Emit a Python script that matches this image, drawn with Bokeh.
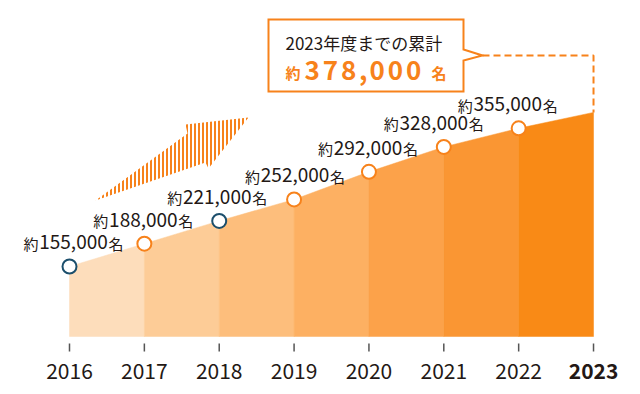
from bokeh.plotting import figure
from bokeh.models import Range1d, ColumnDataSource
from bokeh.core.properties import value
from bokeh.embed import file_html
from bokeh.resources import INLINE

# ---------------- data ----------------
years = [2016, 2017, 2018, 2019, 2020, 2021, 2022, 2023]
totals = [155000, 188000, 221000, 252000, 292000, 328000, 355000, 378000]
year_labels = ["2016", "2017", "2018", "2019", "2020", "2021", "2022", "2023"]
callout_title = "2023年度までの累計"
callout_total = 378000
label_prefix = "約"
label_suffix = "名"

# ---------------- styles ----------------
FONT = "Noto Sans CJK JP"
ORANGE = "#F7821B"
TEXT = "#231815"
seg_colors = ["#FDDDBB", "#FDCC97", "#FDBE7C", "#FDB062", "#FCA24A", "#FA9633", "#F98A16"]
marker_colors = ["#1C4F6C", ORANGE, "#1C4F6C", ORANGE, ORANGE, ORANGE, ORANGE]
year_styles = ["normal"] * 7 + ["bold"]
label_dx = [4, -1, -2, 1, -1, -10, -11]

W, H = 640, 394
X0_PX, STEP_PX = 69.0, 74.86      # px of first year, px per year
Y_ZERO, Y_SLOPE = 373.1, 0.691     # px of value 0, px per thousand


def X(px):
    return years[0] + (px - X0_PX) / STEP_PX


def Y(py):
    return (Y_ZERO - py) / Y_SLOPE * 1000.0


p = figure(width=W, height=H, output_backend="svg", toolbar_location=None,
           x_range=Range1d(X(0), X(W)), y_range=Range1d(Y(H), Y(0)),
           x_axis_location=None, y_axis_location=None,
           min_border_left=0, min_border_right=0, min_border_top=0, min_border_bottom=0)
p.outline_line_color = None
p.grid.visible = False
p.background_fill_color = "white"
p.border_fill_color = "white"

# ---------------- area segments ----------------
base = Y(336)
seg_xs, seg_ys = [], []
for i in range(len(years) - 1):
    seg_xs.append([years[i], years[i + 1], years[i + 1], years[i]])
    seg_ys.append([base, base, totals[i + 1], totals[i]])
p.patches(xs="xs", ys="ys", fill_color="c", line_color="c", line_width=0.5,
          source=ColumnDataSource(dict(xs=seg_xs, ys=seg_ys, c=seg_colors)))

# ---------------- year ticks and labels ----------------
p.segment(x0=years, y0=[Y(343)] * len(years), x1=years, y1=[Y(351)] * len(years),
          line_color="#555555", line_width=1.5)
p.text(x="x", y="y", text="t", text_font_style="s",
       source=ColumnDataSource(dict(x=years, y=[Y(370)] * len(years), t=year_labels, s=year_styles)),
       text_font=value(FONT), text_font_size="21px", text_color=TEXT,
       text_align="center", text_baseline="middle")

# ---------------- dashed connector + callout ----------------
p.line([X(482), years[-1], years[-1]], [Y(55), Y(55), totals[-1]],
       line_color=ORANGE, line_width=2, line_dash="7 4")
p.patch([X(268), X(463), X(463), X(482), X(463), X(463), X(268)],
        [Y(19), Y(19), Y(49), Y(55), Y(60), Y(91), Y(91)],
        fill_color="white", line_color=ORANGE, line_width=2, line_join="miter")
p.text(x=[X(285)], y=[Y(42)], text=[callout_title], text_font=value(FONT),
       text_font_size="17px", text_color=TEXT, text_align="left", text_baseline="middle")
p.text(x=[X(285)], y=[Y(72)], text=[label_prefix], text_font=value(FONT),
       text_font_size="15px", text_color=ORANGE, text_align="left", text_baseline="middle",
       text_font_style="bold")
# big total, spaced out character by character
big = f"{callout_total:,}"
offs, acc = [], 0.0
for ch in big:
    offs.append(acc)
    acc += 10.5 if ch == "," else 18.2
p.text(x=[X(304)] * len(big), y=[Y(70)] * len(big), text=list(big), x_offset=offs,
       text_font=value(FONT), text_font_size="26px", text_color=ORANGE,
       text_align="left", text_baseline="middle", text_font_style="bold")
p.text(x=[X(431)], y=[Y(72)], text=[label_suffix], text_font=value(FONT),
       text_font_size="15px", text_color=ORANGE, text_align="left", text_baseline="middle",
       text_font_style="bold")

# ---------------- hatched arrow ----------------
p.patch([X(95), X(187), X(185), X(248), X(208), X(205)],
        [Y(200), Y(133), Y(124), Y(117), Y(168), Y(162)],
        fill_alpha=0, line_alpha=0, hatch_pattern="|", hatch_color=ORANGE,
        hatch_scale=4, hatch_weight=2)

# ---------------- markers and labels ----------------
NUM_W = 70
n = len(years) - 1
src = ColumnDataSource(dict(
    x=years[:n], y=totals[:n], lc=marker_colors,
    num=[f"{v:,}" for v in totals[:n]],
    pre=[label_prefix] * n, suf=[label_suffix] * n,
    dx=label_dx,
    dxp=[d - NUM_W / 2 for d in label_dx],
    dxs=[d + NUM_W / 2 for d in label_dx],
))
p.scatter("x", "y", source=src, size=14, fill_color="white", line_color="lc", line_width=2)
p.text("x", "y", text="num", source=src, x_offset="dx", y_offset=-24,
       text_font=value(FONT), text_font_size="19px", text_color=TEXT,
       text_align="center", text_baseline="middle")
p.text("x", "y", text="pre", source=src, x_offset="dxp", y_offset=-23,
       text_font=value(FONT), text_font_size="15px", text_color=TEXT,
       text_align="right", text_baseline="middle")
p.text("x", "y", text="suf", source=src, x_offset="dxs", y_offset=-23,
       text_font=value(FONT), text_font_size="15px", text_color=TEXT,
       text_align="left", text_baseline="middle")

open("out.html", "w").write(file_html(p, INLINE))
